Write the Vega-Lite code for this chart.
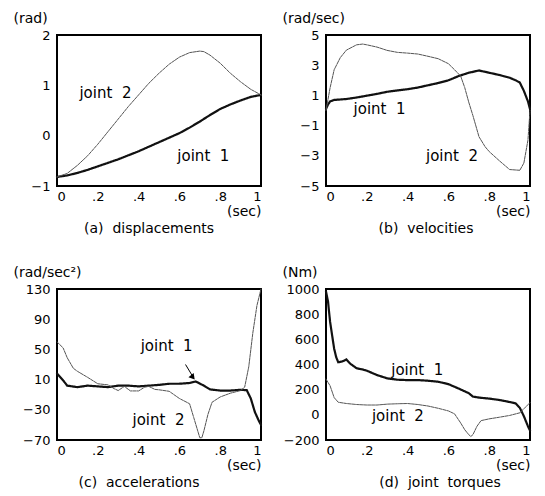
{
  "$schema": "https://vega.github.io/schema/vega-lite/v6.json",
  "padding": {"left": 12, "top": 10, "right": 0, "bottom": 0},
  "background": "white",
  "columns": 2,
  "spacing": {"row": 27, "column": 14},
  "datasets": {
    "a": [
      {"joint":"1","t":0,"v":-0.82},{"joint":"1","t":0.05,"v":-0.79},{"joint":"1","t":0.1,"v":-0.74},{"joint":"1","t":0.15,"v":-0.68},{"joint":"1","t":0.2,"v":-0.61},{"joint":"1","t":0.25,"v":-0.54},{"joint":"1","t":0.3,"v":-0.47},{"joint":"1","t":0.35,"v":-0.39},{"joint":"1","t":0.4,"v":-0.31},{"joint":"1","t":0.45,"v":-0.22},{"joint":"1","t":0.5,"v":-0.13},{"joint":"1","t":0.55,"v":-0.04},{"joint":"1","t":0.6,"v":0.05},{"joint":"1","t":0.65,"v":0.16},{"joint":"1","t":0.7,"v":0.28},{"joint":"1","t":0.75,"v":0.41},{"joint":"1","t":0.8,"v":0.53},{"joint":"1","t":0.85,"v":0.62},{"joint":"1","t":0.9,"v":0.7},{"joint":"1","t":0.95,"v":0.77},{"joint":"1","t":1,"v":0.81},
      {"joint":"2","t":0,"v":-0.82},{"joint":"2","t":0.05,"v":-0.75},{"joint":"2","t":0.1,"v":-0.59},{"joint":"2","t":0.15,"v":-0.4},{"joint":"2","t":0.2,"v":-0.17},{"joint":"2","t":0.25,"v":0.08},{"joint":"2","t":0.3,"v":0.33},{"joint":"2","t":0.35,"v":0.58},{"joint":"2","t":0.4,"v":0.81},{"joint":"2","t":0.45,"v":1.04},{"joint":"2","t":0.5,"v":1.24},{"joint":"2","t":0.55,"v":1.42},{"joint":"2","t":0.6,"v":1.56},{"joint":"2","t":0.65,"v":1.65},{"joint":"2","t":0.7,"v":1.68},{"joint":"2","t":0.72,"v":1.67},{"joint":"2","t":0.75,"v":1.6},{"joint":"2","t":0.8,"v":1.44},{"joint":"2","t":0.85,"v":1.24},{"joint":"2","t":0.9,"v":1.07},{"joint":"2","t":0.95,"v":0.92},{"joint":"2","t":1,"v":0.81}
    ],
    "b": [
      {"joint":"1","t":0,"v":0.1},{"joint":"1","t":0.01,"v":0.4},{"joint":"1","t":0.02,"v":0.6},{"joint":"1","t":0.04,"v":0.7},{"joint":"1","t":0.1,"v":0.76},{"joint":"1","t":0.15,"v":0.86},{"joint":"1","t":0.2,"v":0.98},{"joint":"1","t":0.25,"v":1.1},{"joint":"1","t":0.3,"v":1.24},{"joint":"1","t":0.35,"v":1.33},{"joint":"1","t":0.4,"v":1.41},{"joint":"1","t":0.45,"v":1.52},{"joint":"1","t":0.5,"v":1.67},{"joint":"1","t":0.55,"v":1.82},{"joint":"1","t":0.6,"v":2.0},{"joint":"1","t":0.65,"v":2.28},{"joint":"1","t":0.7,"v":2.5},{"joint":"1","t":0.75,"v":2.65},{"joint":"1","t":0.8,"v":2.5},{"joint":"1","t":0.85,"v":2.35},{"joint":"1","t":0.9,"v":2.17},{"joint":"1","t":0.93,"v":2.0},{"joint":"1","t":0.95,"v":1.85},{"joint":"1","t":0.97,"v":1.3},{"joint":"1","t":0.99,"v":0.6},{"joint":"1","t":1,"v":0.1},
      {"joint":"2","t":0,"v":0},{"joint":"2","t":0.02,"v":1.5},{"joint":"2","t":0.04,"v":2.7},{"joint":"2","t":0.07,"v":3.5},{"joint":"2","t":0.1,"v":4.0},{"joint":"2","t":0.15,"v":4.35},{"joint":"2","t":0.18,"v":4.4},{"joint":"2","t":0.2,"v":4.35},{"joint":"2","t":0.25,"v":4.2},{"joint":"2","t":0.3,"v":3.98},{"joint":"2","t":0.35,"v":3.85},{"joint":"2","t":0.4,"v":3.8},{"joint":"2","t":0.45,"v":3.74},{"joint":"2","t":0.5,"v":3.59},{"joint":"2","t":0.55,"v":3.43},{"joint":"2","t":0.6,"v":3.1},{"joint":"2","t":0.63,"v":2.7},{"joint":"2","t":0.66,"v":2.28},{"joint":"2","t":0.68,"v":1.52},{"joint":"2","t":0.7,"v":0.54},{"joint":"2","t":0.72,"v":-0.33},{"joint":"2","t":0.75,"v":-1.74},{"joint":"2","t":0.78,"v":-2.4},{"joint":"2","t":0.8,"v":-2.72},{"joint":"2","t":0.85,"v":-3.33},{"joint":"2","t":0.9,"v":-3.91},{"joint":"2","t":0.95,"v":-3.96},{"joint":"2","t":0.97,"v":-3.48},{"joint":"2","t":0.99,"v":-1.96},{"joint":"2","t":1,"v":0}
    ],
    "c": [
      {"joint":"1","t":0,"v":18},{"joint":"1","t":0.03,"v":9},{"joint":"1","t":0.05,"v":2},{"joint":"1","t":0.1,"v":0},{"joint":"1","t":0.15,"v":2},{"joint":"1","t":0.2,"v":1},{"joint":"1","t":0.25,"v":0},{"joint":"1","t":0.3,"v":2},{"joint":"1","t":0.35,"v":2},{"joint":"1","t":0.4,"v":1},{"joint":"1","t":0.45,"v":2},{"joint":"1","t":0.5,"v":3},{"joint":"1","t":0.55,"v":4.5},{"joint":"1","t":0.6,"v":4.5},{"joint":"1","t":0.65,"v":5.5},{"joint":"1","t":0.68,"v":7.5},{"joint":"1","t":0.72,"v":2},{"joint":"1","t":0.75,"v":-3},{"joint":"1","t":0.8,"v":-4.5},{"joint":"1","t":0.85,"v":-4.5},{"joint":"1","t":0.9,"v":-3.5},{"joint":"1","t":0.93,"v":-4},{"joint":"1","t":0.95,"v":-15},{"joint":"1","t":0.97,"v":-33},{"joint":"1","t":0.99,"v":-45},{"joint":"1","t":1,"v":-50},
      {"joint":"2","t":0,"v":60},{"joint":"2","t":0.03,"v":52},{"joint":"2","t":0.05,"v":39},{"joint":"2","t":0.08,"v":25},{"joint":"2","t":0.1,"v":21},{"joint":"2","t":0.15,"v":13},{"joint":"2","t":0.2,"v":4.5},{"joint":"2","t":0.25,"v":3},{"joint":"2","t":0.28,"v":-2},{"joint":"2","t":0.3,"v":-4.5},{"joint":"2","t":0.33,"v":1},{"joint":"2","t":0.36,"v":-5},{"joint":"2","t":0.4,"v":-5},{"joint":"2","t":0.43,"v":0},{"joint":"2","t":0.45,"v":1},{"joint":"2","t":0.48,"v":-3},{"joint":"2","t":0.5,"v":-3.5},{"joint":"2","t":0.55,"v":-5.5},{"joint":"2","t":0.6,"v":-15},{"joint":"2","t":0.65,"v":-22},{"joint":"2","t":0.67,"v":-40},{"joint":"2","t":0.69,"v":-58},{"joint":"2","t":0.7,"v":-67},{"joint":"2","t":0.71,"v":-67},{"joint":"2","t":0.72,"v":-58},{"joint":"2","t":0.74,"v":-36},{"joint":"2","t":0.76,"v":-20},{"joint":"2","t":0.8,"v":-13},{"joint":"2","t":0.85,"v":-8},{"joint":"2","t":0.9,"v":-4.5},{"joint":"2","t":0.92,"v":0},{"joint":"2","t":0.94,"v":27},{"joint":"2","t":0.96,"v":72},{"joint":"2","t":0.98,"v":108},{"joint":"2","t":1,"v":130}
    ],
    "d": [
      {"joint":"1","t":0,"v":980},{"joint":"1","t":0.01,"v":900},{"joint":"1","t":0.02,"v":740},{"joint":"1","t":0.04,"v":525},{"joint":"1","t":0.05,"v":458},{"joint":"1","t":0.06,"v":418},{"joint":"1","t":0.08,"v":424},{"joint":"1","t":0.1,"v":440},{"joint":"1","t":0.12,"v":405},{"joint":"1","t":0.15,"v":370},{"joint":"1","t":0.18,"v":360},{"joint":"1","t":0.2,"v":351},{"joint":"1","t":0.25,"v":316},{"joint":"1","t":0.3,"v":290},{"joint":"1","t":0.35,"v":279},{"joint":"1","t":0.4,"v":276},{"joint":"1","t":0.45,"v":276},{"joint":"1","t":0.5,"v":271},{"joint":"1","t":0.55,"v":263},{"joint":"1","t":0.6,"v":244},{"joint":"1","t":0.65,"v":209},{"joint":"1","t":0.7,"v":172},{"joint":"1","t":0.72,"v":145},{"joint":"1","t":0.75,"v":137},{"joint":"1","t":0.8,"v":129},{"joint":"1","t":0.85,"v":118},{"joint":"1","t":0.9,"v":102},{"joint":"1","t":0.93,"v":91},{"joint":"1","t":0.95,"v":56},{"joint":"1","t":0.97,"v":-11},{"joint":"1","t":0.99,"v":-91},{"joint":"1","t":1,"v":-125},
      {"joint":"2","t":0,"v":284},{"joint":"2","t":0.02,"v":231},{"joint":"2","t":0.04,"v":137},{"joint":"2","t":0.06,"v":100},{"joint":"2","t":0.1,"v":90},{"joint":"2","t":0.15,"v":82},{"joint":"2","t":0.2,"v":78},{"joint":"2","t":0.25,"v":78},{"joint":"2","t":0.3,"v":85},{"joint":"2","t":0.35,"v":88},{"joint":"2","t":0.4,"v":90},{"joint":"2","t":0.45,"v":82},{"joint":"2","t":0.5,"v":70},{"joint":"2","t":0.55,"v":52},{"joint":"2","t":0.6,"v":31},{"joint":"2","t":0.63,"v":8},{"joint":"2","t":0.66,"v":-64},{"joint":"2","t":0.68,"v":-118},{"joint":"2","t":0.7,"v":-158},{"joint":"2","t":0.71,"v":-172},{"joint":"2","t":0.72,"v":-158},{"joint":"2","t":0.74,"v":-91},{"joint":"2","t":0.76,"v":-46},{"joint":"2","t":0.8,"v":-32},{"joint":"2","t":0.85,"v":-19},{"joint":"2","t":0.9,"v":-5},{"joint":"2","t":0.95,"v":16},{"joint":"2","t":0.97,"v":48},{"joint":"2","t":1,"v":97}
    ]
  },
  "concat": [
    {
      "width": 204, "height": 151,
      "title": {"text": "(a)\u00a0\u00a0displacements", "orient": "bottom", "dx": -10},
      "layer": [
        {
          "data": {"name": "a"},
          "mark": {"type": "line", "strokeCap": "round"},
          "encoding": {
            "x": {"field": "t", "type": "quantitative", "scale": {"domain": [0, 1], "nice": false}, "axis": {"title": "(sec)", "tickCount": 12, "values": [0, 0.2, 0.4, 0.6, 0.8, 1], "labelExpr": "datum.value === 0 ? '0' : datum.value === 1 ? '1' : '.' + format(datum.value * 10, 'd')"}},
            "y": {"field": "v", "type": "quantitative", "scale": {"domain": [-1, 2], "nice": false, "zero": false}, "axis": {"title": "(rad)", "tickCount": 12, "values": [-1, 0, 1, 2], "format": "d"}},
            "color": {"field": "joint", "type": "nominal", "scale": {"domain": ["1", "2"], "range": ["#111111", "#555555"]}, "legend": null},
            "strokeWidth": {"field": "joint", "type": "ordinal", "scale": {"domain": ["1", "2"], "range": [2.2, 1]}, "legend": null},
            "strokeDash": {"field": "joint", "type": "nominal", "scale": {"domain": ["1", "2"], "range": [[1, 0], [3, 1]]}, "legend": null}
          }
        },
        {
          "data": {"values": [{"t": 0.11, "v": 0.84, "label": "joint\u00a0\u00a02"}, {"t": 0.59, "v": -0.4, "label": "joint\u00a0\u00a01"}]},
          "mark": {"type": "text", "align": "left", "baseline": "middle", "fontSize": 15, "font": "DejaVu Sans", "color": "black"},
          "encoding": {
            "x": {"field": "t", "type": "quantitative"},
            "y": {"field": "v", "type": "quantitative"},
            "text": {"field": "label"}
          }
        }
      ]
    },
    {
      "width": 204, "height": 151,
      "title": {"text": "(b)\u00a0\u00a0velocities", "orient": "bottom", "dx": -2},
      "layer": [
        {
          "data": {"name": "b"},
          "mark": {"type": "line", "strokeCap": "round"},
          "encoding": {
            "x": {"field": "t", "type": "quantitative", "scale": {"domain": [0, 1], "nice": false}, "axis": {"title": "(sec)", "tickCount": 12, "values": [0, 0.2, 0.4, 0.6, 0.8, 1], "labelExpr": "datum.value === 0 ? '0' : datum.value === 1 ? '1' : '.' + format(datum.value * 10, 'd')"}},
            "y": {"field": "v", "type": "quantitative", "scale": {"domain": [-5, 5], "nice": false, "zero": false}, "axis": {"title": "(rad/sec)", "tickCount": 12, "values": [-5, -3, -1, 1, 3, 5], "format": "d"}},
            "color": {"field": "joint", "type": "nominal", "scale": {"domain": ["1", "2"], "range": ["#111111", "#555555"]}, "legend": null},
            "strokeWidth": {"field": "joint", "type": "ordinal", "scale": {"domain": ["1", "2"], "range": [2.2, 1]}, "legend": null},
            "strokeDash": {"field": "joint", "type": "nominal", "scale": {"domain": ["1", "2"], "range": [[1, 0], [3, 1]]}, "legend": null}
          }
        },
        {
          "data": {"values": [{"t": 0.135, "v": 0.1, "label": "joint\u00a0\u00a01"}, {"t": 0.49, "v": -3.0, "label": "joint\u00a0\u00a02"}]},
          "mark": {"type": "text", "align": "left", "baseline": "middle", "fontSize": 15, "font": "DejaVu Sans", "color": "black"},
          "encoding": {
            "x": {"field": "t", "type": "quantitative"},
            "y": {"field": "v", "type": "quantitative"},
            "text": {"field": "label"}
          }
        }
      ]
    },
    {
      "width": 204, "height": 151,
      "title": {"text": "(c)\u00a0\u00a0accelerations", "orient": "bottom", "dx": -20},
      "layer": [
        {
          "data": {"name": "c"},
          "mark": {"type": "line", "strokeCap": "round"},
          "encoding": {
            "x": {"field": "t", "type": "quantitative", "scale": {"domain": [0, 1], "nice": false}, "axis": {"title": "(sec)", "tickCount": 12, "values": [0, 0.2, 0.4, 0.6, 0.8, 1], "labelExpr": "datum.value === 0 ? '0' : datum.value === 1 ? '1' : '.' + format(datum.value * 10, 'd')"}},
            "y": {"field": "v", "type": "quantitative", "scale": {"domain": [-70, 130], "nice": false, "zero": false}, "axis": {"title": "(rad/sec²)", "tickCount": 12, "values": [-70, -30, 10, 50, 90, 130], "format": "d"}},
            "color": {"field": "joint", "type": "nominal", "scale": {"domain": ["1", "2"], "range": ["#111111", "#555555"]}, "legend": null},
            "strokeWidth": {"field": "joint", "type": "ordinal", "scale": {"domain": ["1", "2"], "range": [2.2, 1]}, "legend": null},
            "strokeDash": {"field": "joint", "type": "nominal", "scale": {"domain": ["1", "2"], "range": [[1, 0], [3, 1]]}, "legend": null}
          }
        },
        {
          "data": {"values": [{"t": 0.41, "v": 54, "label": "joint\u00a0\u00a01"}, {"t": 0.37, "v": -44, "label": "joint\u00a0\u00a02"}]},
          "mark": {"type": "text", "align": "left", "baseline": "middle", "fontSize": 15, "font": "DejaVu Sans", "color": "black"},
          "encoding": {
            "x": {"field": "t", "type": "quantitative"},
            "y": {"field": "v", "type": "quantitative"},
            "text": {"field": "label"}
          }
        },
        {
          "data": {"values": [{"t": 0.63, "v": 30, "t2": 0.668, "v2": 13}]},
          "mark": {"type": "rule", "color": "black", "strokeWidth": 1},
          "encoding": {
            "x": {"field": "t", "type": "quantitative"},
            "y": {"field": "v", "type": "quantitative"},
            "x2": {"field": "t2"},
            "y2": {"field": "v2"}
          }
        },
        {
          "data": {"values": [{"t": 0.666, "v": 13}]},
          "mark": {"type": "point", "shape": "triangle-down", "filled": true, "color": "black", "size": 45, "angle": 321, "opacity": 1},
          "encoding": {
            "x": {"field": "t", "type": "quantitative"},
            "y": {"field": "v", "type": "quantitative"}
          }
        }
      ]
    },
    {
      "width": 204, "height": 151,
      "title": {"text": "(d)\u00a0\u00a0joint\u00a0\u00a0torques", "orient": "bottom", "dx": 12},
      "layer": [
        {
          "data": {"name": "d"},
          "mark": {"type": "line", "strokeCap": "round"},
          "encoding": {
            "x": {"field": "t", "type": "quantitative", "scale": {"domain": [0, 1], "nice": false}, "axis": {"title": "(sec)", "tickCount": 12, "values": [0, 0.2, 0.4, 0.6, 0.8, 1], "labelExpr": "datum.value === 0 ? '0' : datum.value === 1 ? '1' : '.' + format(datum.value * 10, 'd')"}},
            "y": {"field": "v", "type": "quantitative", "scale": {"domain": [-200, 1000], "nice": false, "zero": false}, "axis": {"title": "(Nm)", "tickCount": 12, "values": [-200, 0, 200, 400, 600, 800, 1000], "format": "d"}},
            "color": {"field": "joint", "type": "nominal", "scale": {"domain": ["1", "2"], "range": ["#111111", "#555555"]}, "legend": null},
            "strokeWidth": {"field": "joint", "type": "ordinal", "scale": {"domain": ["1", "2"], "range": [2.2, 1]}, "legend": null},
            "strokeDash": {"field": "joint", "type": "nominal", "scale": {"domain": ["1", "2"], "range": [[1, 0], [3, 1]]}, "legend": null}
          }
        },
        {
          "data": {"values": [{"t": 0.32, "v": 359, "label": "joint\u00a0\u00a01"}, {"t": 0.225, "v": -11, "label": "joint\u00a0\u00a02"}]},
          "mark": {"type": "text", "align": "left", "baseline": "middle", "fontSize": 15, "font": "DejaVu Sans", "color": "black"},
          "encoding": {
            "x": {"field": "t", "type": "quantitative"},
            "y": {"field": "v", "type": "quantitative"},
            "text": {"field": "label"}
          }
        }
      ]
    }
  ],
  "resolve": {"scale": {"x": "independent", "y": "independent"}},
  "config": {
    "view": {"stroke": "black", "strokeWidth": 2},
    "axis": {"labelFont": "DejaVu Sans", "labelFontSize": 13, "labelColor": "black", "titleFont": "DejaVu Sans", "titleFontSize": 14, "titleFontWeight": "normal", "titleColor": "black", "ticks": false, "tickSize": 0, "domain": false, "grid": false, "labelOverlap": false},
    "axisX": {"labelPadding": 4, "titleAnchor": "end", "titlePadding": 1},
    "axisY": {"labelPadding": 7, "titleAngle": 0, "titleAlign": "left", "titleBaseline": "middle", "titleX": -44, "titleY": -17},
    "title": {"font": "DejaVu Sans", "fontSize": 14, "fontWeight": "normal", "color": "black", "offset": 4}
  }
}
